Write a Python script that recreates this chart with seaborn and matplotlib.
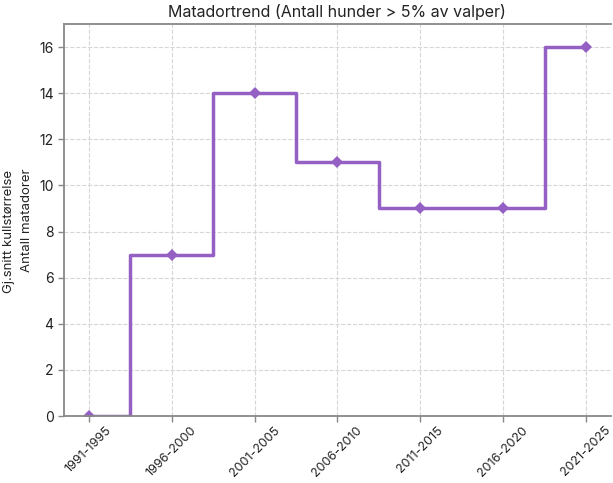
import matplotlib
matplotlib.use("Agg")
import matplotlib.pyplot as plt
import seaborn as sns
import pandas as pd

periods = ["1991-1995", "1996-2000", "2001-2005", "2006-2010", "2011-2015", "2016-2020", "2021-2025"]
matadors = [0, 7, 14, 11, 9, 9, 16]

sns.set_theme(style="whitegrid")
plt.rcParams['font.family'] = ['Inter', 'DejaVu Sans']

df = pd.DataFrame({"period": periods, "matadors": matadors})

fig = plt.figure(figsize=(6.13, 4.83), dpi=100)
ax = fig.add_axes([0.1044, 0.1387, 0.892, 0.8116])

sns.lineplot(data=df, x="period", y="matadors", ax=ax, color="#9560c4",
             linewidth=2.5, marker="D", markersize=6, markeredgewidth=0,
             drawstyle="steps-mid", sort=False)

ax.set_ylim(0, 17)
ax.set_xlim(-0.3, 6.3)
ax.set_yticks(range(0, 17, 2))
ax.set_title("Matadortrend (Antall hunder > 5% av valper)", fontsize=11.5, color="#222222", pad=5)
ax.set_xlabel("")
ax.set_ylabel("Antall matadorer", fontsize=9.5, color="#222222")
ax.yaxis.set_label_coords(-0.056, 0.5)
fig.text(0.014, 0.52, "Gj.snitt kullstørrelse", rotation=90, fontsize=9.5, color="#222222",
         ha="center", va="center")

ax.grid(True, linestyle="--", color="#d6d6d6", linewidth=0.8)
for s in ["left", "bottom", "top", "right"]:
    ax.spines[s].set_color("#888888")
    ax.spines[s].set_linewidth(1.3)
ax.spines["right"].set_visible(False)
ax.tick_params(axis="both", which="both", length=4, width=1, color="#888888",
               labelsize=10, labelcolor="#222222", bottom=True, left=True)
ax.tick_params(axis="x", labelsize=9, pad=2)
plt.setp(ax.get_xticklabels(), rotation=45, ha="center", rotation_mode="default")

fig.savefig("out.png", dpi=100)
